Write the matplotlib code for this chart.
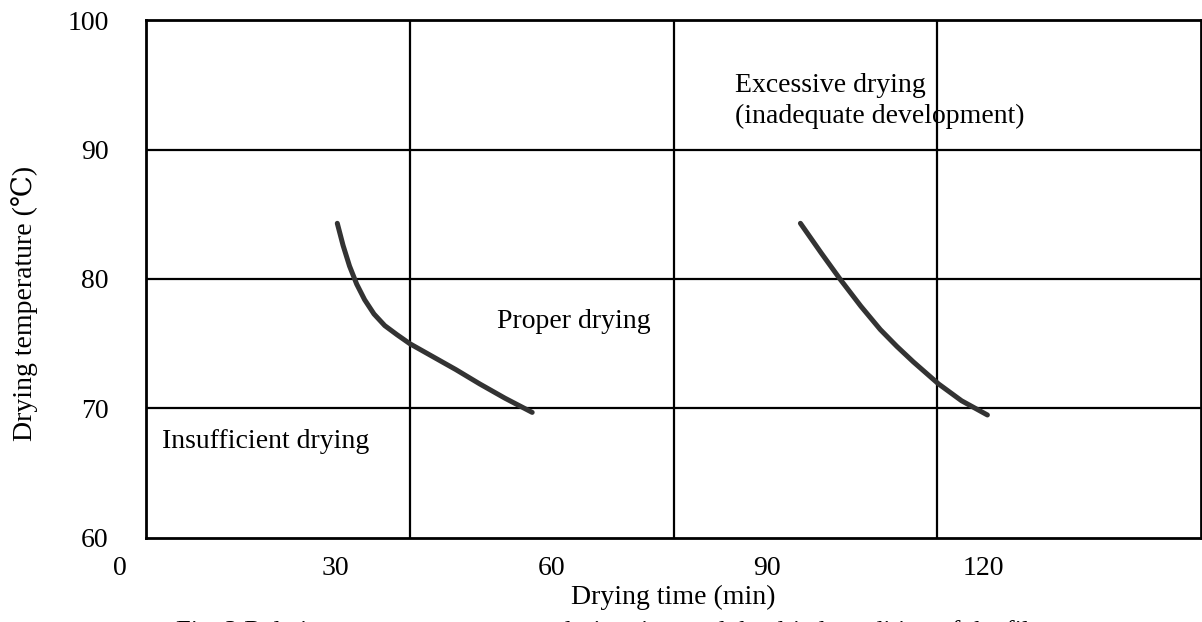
import matplotlib.pyplot as plt
import matplotlib.transforms as mtransforms

plt.rcParams['font.family'] = ['Liberation Serif', 'DejaVu Serif']

# data
curve1_time = [30.2, 31.0, 31.9, 32.9, 34.0, 35.3, 36.8, 38.5, 40.3, 43.5, 46.7, 50.0, 53.5, 57.3]
curve1_temp = [84.3, 82.6, 81.0, 79.6, 78.4, 77.3, 76.4, 75.7, 75.0, 74.0, 73.0, 71.9, 70.8, 69.7]
curve2_time = [94.6, 97.5, 100.1, 103.0, 105.7, 108.0, 110.3, 113.8, 117.0, 120.6]
curve2_temp = [84.3, 82.0, 80.0, 77.9, 76.1, 74.8, 73.6, 71.9, 70.6, 69.5]
xticks = [0, 30, 60, 90, 120]
yticks = [60, 70, 80, 90, 100]

W, H = 1202, 622
fig = plt.figure(figsize=(W / 100, H / 100), dpi=100)
ax = fig.add_axes([146 / W, 84 / H, 1055 / W, 518 / H])

x0, x1 = 3.6, 150.3
ax.set_xlim(x0, x1)
ax.set_ylim(60, 100)

# grid: horizontal at the y ticks, vertical splits the box in 4 columns
for y in yticks[1:-1]:
    ax.axhline(y, color='black', lw=1.6)
for k in range(1, 4):
    ax.axvline(x0 + k * (x1 - x0) / 4, color='black', lw=1.6)

for s in ax.spines.values():
    s.set_linewidth(2.0)

ax.plot(curve1_time, curve1_temp, color='#333333', lw=3.6, solid_capstyle='round')
ax.plot(curve2_time, curve2_temp, color='#333333', lw=3.6, solid_capstyle='round')

fs = 20
ax.set_yticks(yticks)
ax.set_yticklabels([str(v) for v in yticks], fontsize=fs)
ax.tick_params(axis='y', length=0, pad=27)

ax.set_xticks(xticks[1:])
ax.set_xticklabels([str(v) for v in xticks[1:]], fontsize=fs)
ax.tick_params(axis='x', length=0, pad=13)
trans = mtransforms.blended_transform_factory(ax.transData, ax.transAxes)
ax.text(xticks[0], -0.058, str(xticks[0]), transform=trans, ha='center', va='center',
        fontsize=fs, clip_on=False)

ax.set_xlabel('Drying time (min)', fontsize=fs, labelpad=3)
fig.text(25 / W, 1 - 303 / H, 'Drying temperature (℃)', rotation=90,
         ha='center', va='center', fontsize=fs)

fig.text(735 / W, 1 - 101 / H, 'Excessive drying\n(inadequate development)',
         fontsize=fs, ha='left', va='center', linespacing=1.3)
fig.text(497 / W, 1 - 322 / H, 'Proper drying', fontsize=fs, ha='left', va='center')
fig.text(162 / W, 1 - 442 / H, 'Insufficient drying', fontsize=fs, ha='left', va='center')

fig.text(0.51, -0.016, 'Fig. 3 Relation among temperature, drying time and the dried condition of the film',
         ha='center', va='center', fontsize=19)

fig.savefig('out.png', dpi=100)
